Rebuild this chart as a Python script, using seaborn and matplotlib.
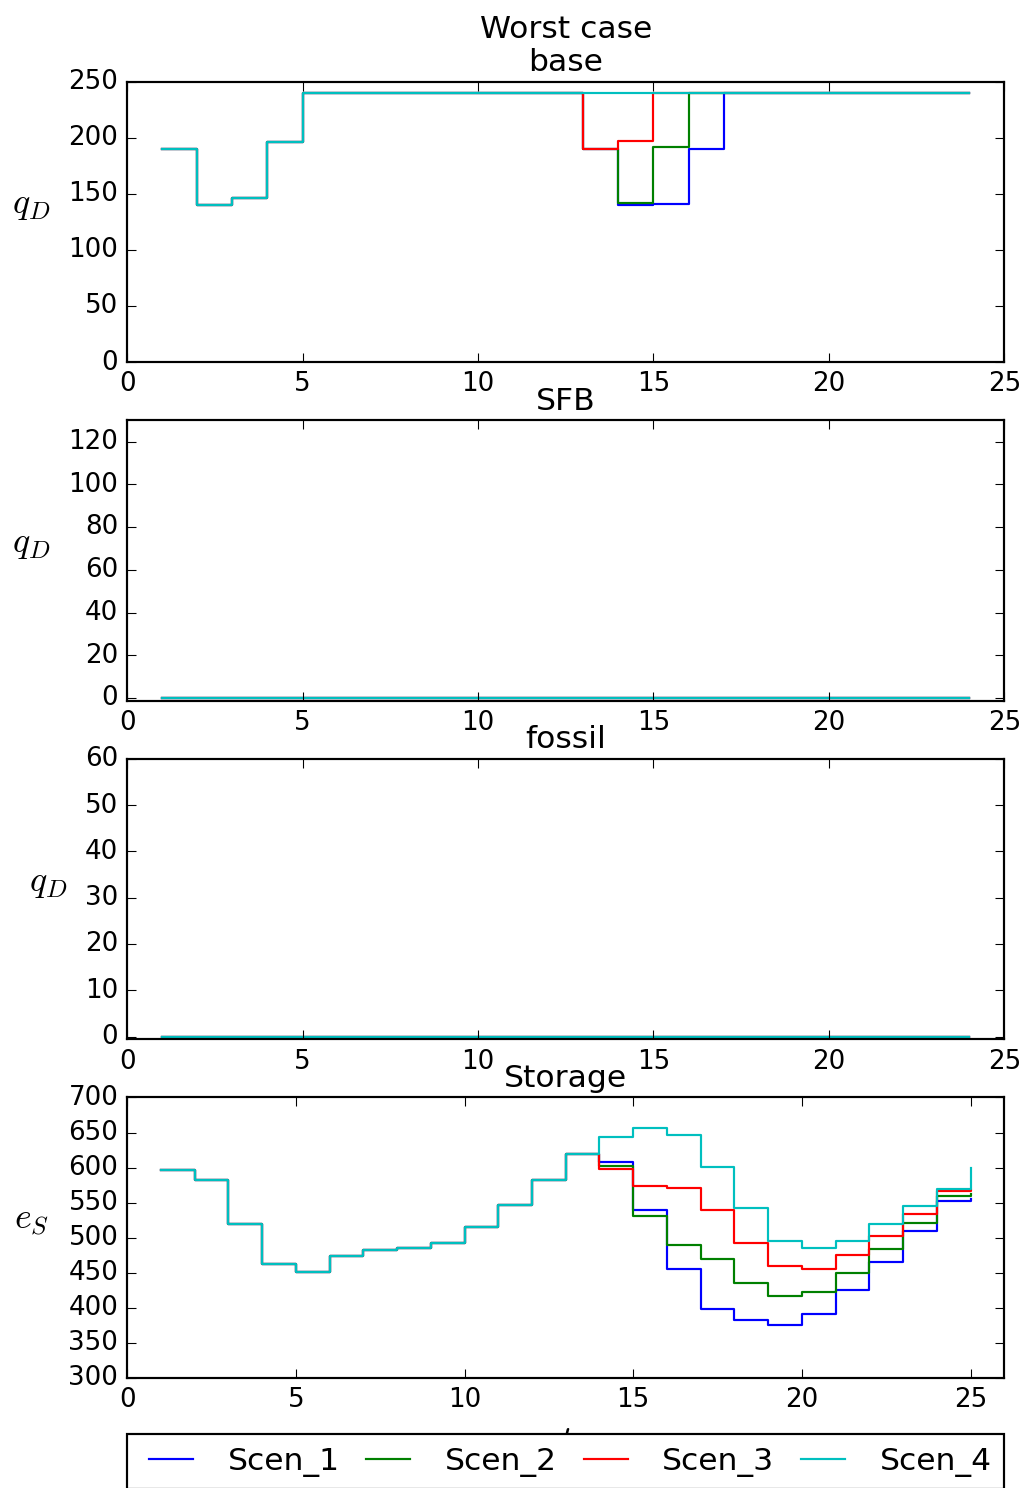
import matplotlib
matplotlib.use('Agg')
import matplotlib.pyplot as plt
import seaborn as sns
import pandas as pd

# Data
scenarios = ['Scen_1', 'Scen_2', 'Scen_3', 'Scen_4']
colors = ['b', 'g', 'r', 'c']

hours = list(range(1, 25))
hours_storage = list(range(1, 26))

# base plant output q_D, hours 1..24
base_common = [190, 140, 146, 196, 240, 240, 240, 240, 240, 240, 240, 240]
base_scen_1 = [190, 140, 141, 190, 240, 240, 240, 240, 240, 240, 240, 240]
base_scen_2 = [190, 142, 192, 240, 240, 240, 240, 240, 240, 240, 240, 240]
base_scen_3 = [190, 197, 240, 240, 240, 240, 240, 240, 240, 240, 240, 240]
base_scen_4 = [240, 240, 240, 240, 240, 240, 240, 240, 240, 240, 240, 240]

# SFB and fossil stay at zero
sfb_values = [0] * 24
fossil_values = [0] * 24

# storage level e_S, hours 1..25
storage_common = [596, 583, 520, 463, 451, 474, 482, 485, 493, 515, 547, 583, 619]
storage_scen_1 = [608, 539, 455, 399, 382, 375, 391, 425, 466, 509, 553, 555]
storage_scen_2 = [602, 531, 489, 469, 436, 417, 423, 450, 484, 521, 559, 562]
storage_scen_3 = [598, 574, 571, 539, 492, 459, 456, 475, 503, 534, 566, 568]
storage_scen_4 = [643, 657, 646, 601, 542, 496, 485, 496, 520, 545, 570, 600]


def long_frame(x, series):
    rows = []
    for scen, vals in zip(scenarios, series):
        for t, v in zip(x, vals):
            rows.append({'t': t, 'value': v, 'scen': scen})
    return pd.DataFrame(rows)


def step_plot(ax, df):
    sns.lineplot(data=df, x='t', y='value', hue='scen', palette=colors,
                 drawstyle='steps-post', estimator=None, legend=False, ax=ax)
    ax.set_xlabel('')


def set_ylabel(ax, text):
    ax.set_ylabel(text, rotation=0, labelpad=17, fontsize=16.5)


base_df = long_frame(hours, [base_common + s for s in
                             [base_scen_1, base_scen_2, base_scen_3, base_scen_4]])
sfb_df = long_frame(hours, [sfb_values] * 4)
fossil_df = long_frame(hours, [fossil_values] * 4)
storage_df = long_frame(hours_storage, [storage_common + s for s in
                                        [storage_scen_1, storage_scen_2,
                                         storage_scen_3, storage_scen_4]])

plt.style.use('classic')
dpi = 157
fig, axes = plt.subplots(4, 1, figsize=(1027.4 / dpi, 1488.4 / dpi), dpi=dpi,
                         facecolor='white')
fig.subplots_adjust(left=0.1237, right=0.9776, top=0.9449, bottom=0.0739,
                    hspace=0.207)

ax1, ax2, ax3, ax4 = axes

step_plot(ax1, base_df)
ax1.set_xlim(0, 25)
ax1.set_ylim(0, 250)
ax1.set_title('Worst case\nbase')
set_ylabel(ax1, '$q_D$')

step_plot(ax2, sfb_df)
ax2.set_xlim(0, 25)
ax2.set_ylim(-1.3, 130)
ax2.set_title('SFB')
set_ylabel(ax2, '$q_D$')

step_plot(ax3, fossil_df)
ax3.set_xlim(0, 25)
ax3.set_ylim(-0.6, 60)
ax3.set_title('fossil')
set_ylabel(ax3, '$q_D$')

step_plot(ax4, storage_df)
ax4.set_xlim(0, 26)
ax4.set_ylim(300, 700)
ax4.set_title('Storage')
set_ylabel(ax4, '$e_S$')
ax4.set_xlabel('$t$', fontsize=16.5)

ax4.legend(ax4.get_lines()[:4], scenarios, loc='upper left',
           bbox_to_anchor=(0, -0.2, 1, 0), mode='expand', ncol=4,
           borderaxespad=0, fontsize='large')

fig.savefig('out.png', dpi=dpi, facecolor='white')
